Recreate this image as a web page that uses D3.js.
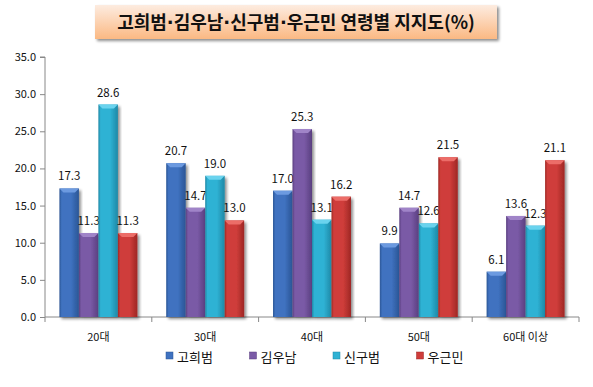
<!DOCTYPE html>
<html>
<head>
<meta charset="utf-8">
<script src="https://cdn.jsdelivr.net/npm/d3@7"></script>
<style>
body{margin:0;background:#fff;}
text{font-family:"Noto Sans CJK KR","Noto Sans",sans-serif;}
</style>
</head>
<body>
<div id="chart"></div>
<script>
// data
let categories=["20대","30대","40대","50대","60대 이상"]
let seriesNames=["고희범","김우남","신구범","우근민"]
let goHuibeom=[17.3,20.7,17.0,9.9,6.1]
let kimUnam=[11.3,14.7,25.3,14.7,13.6]
let sinGubeom=[28.6,19.0,13.1,12.6,12.3]
let uGeunmin=[11.3,13.0,16.2,21.5,21.1]
let yTicks=[0,5,10,15,20,25,30,35]
let titleText="고희범·김우남·신구범·우근민 연령별 지지도(%)"

let seriesValues=[goHuibeom,kimUnam,sinGubeom,uGeunmin]
// base, light, dark for each series
let colors=[
    ["#3f72c0","#6c9ae0","#2a5595"],
    ["#7a5aa6","#a084c8","#5a3f80"],
    ["#2fb2d4","#6ad3ee","#1e88a6"],
    ["#cf3d3a","#ec6d68","#9e2724"]
]

let width=593,height=387
const svg=d3.select("#chart").append("svg").attr("width",width).attr("height",height)
const defs=svg.append("defs")

// title box gradient + shadow
let tg=defs.append("linearGradient").attr("id","titleGrad").attr("x1",0).attr("y1",0).attr("x2",0).attr("y2",1)
tg.append("stop").attr("offset","0%").attr("stop-color","#fdece0")
tg.append("stop").attr("offset","100%").attr("stop-color","#fbb983")
let sh=defs.append("filter").attr("id","shadow").attr("x","-10%").attr("y","-10%").attr("width","130%").attr("height","150%")
sh.append("feGaussianBlur").attr("in","SourceAlpha").attr("stdDeviation",1.5)
sh.append("feOffset").attr("dx",2).attr("dy",2).attr("result","ob")
sh.append("feComponentTransfer").append("feFuncA").attr("type","linear").attr("slope",0.45)
let mg=sh.append("feMerge")
mg.append("feMergeNode")
mg.append("feMergeNode").attr("in","SourceGraphic")

colors.forEach((c,i)=>{
    let g=defs.append("linearGradient").attr("id","bar"+i).attr("x1",0).attr("y1",0).attr("x2",1).attr("y2",0)
    g.append("stop").attr("offset","0%").attr("stop-color",c[2])
    g.append("stop").attr("offset","12%").attr("stop-color",c[0])
    g.append("stop").attr("offset","60%").attr("stop-color",c[0])
    g.append("stop").attr("offset","100%").attr("stop-color",c[2])
})

svg.append("rect").attr("x",95).attr("y",5).attr("width",402).attr("height",34)
    .attr("fill","url(#titleGrad)").attr("filter","url(#shadow)")
// split on the middle dot so the dots can use a narrow latin font
let titleT=svg.append("text").attr("x",296).attr("y",28.5).attr("text-anchor","middle")
    .attr("font-size",18).attr("font-weight","bold").attr("fill","#111")
titleText.split(/(·)/).forEach(part=>{
    let ts=titleT.append("tspan").text(part)
    if(part=="·") ts.attr("font-family","DejaVu Sans")
})

let plotLeft=45,plotRight=579,plotTop=57,plotBottom=317
const yScale=d3.scaleLinear().domain([0,35]).range([plotBottom,plotTop])
const xScale=d3.scaleBand().domain(categories).range([plotLeft,plotRight]).paddingInner(0.27).paddingOuter(0.135)
const sub=d3.scaleBand().domain(d3.range(seriesNames.length)).range([0,xScale.bandwidth()])

// axes
const yAxis=d3.axisLeft(yScale).tickValues(yTicks).tickFormat(d3.format(".1f")).tickSize(5).tickPadding(4)
let ya=svg.append("g").attr("transform","translate("+plotLeft+",0)").call(yAxis)
ya.select(".domain").attr("stroke","#888").attr("d","M-5,"+plotTop+"H0V"+plotBottom)
ya.selectAll(".tick line").attr("stroke","#888")
ya.selectAll("text").attr("font-size",11).attr("fill","#111").attr("font-family","DejaVu Sans")

let xa=svg.append("g").attr("transform","translate(0,"+plotBottom+")")
xa.append("line").attr("x1",plotLeft).attr("x2",plotRight).attr("stroke","#888")
let edges=categories.map(c=>xScale(c)-xScale.step()*xScale.paddingInner()/2).concat([plotRight])
xa.selectAll(".xt").data(edges).enter().append("line").attr("x1",d=>d).attr("x2",d=>d).attr("y1",0).attr("y2",5).attr("stroke","#888")
xa.selectAll(".xl").data(categories).enter().append("text")
    .attr("x",d=>xScale(d)+xScale.bandwidth()/2).attr("y",24).attr("text-anchor","middle")
    .attr("font-size",11).attr("fill","#111").text(d=>d)

// bars
let bw=sub.bandwidth()
seriesValues.forEach((vals,s)=>{
    let g=svg.append("g")
    let gg=g.selectAll("g").data(vals).enter().append("g")
        .attr("transform",(d,i)=>"translate("+(xScale(categories[i])+sub(s))+",0)")
    gg.append("rect").attr("x",0).attr("y",d=>yScale(d)).attr("width",bw).attr("height",d=>plotBottom-yScale(d))
        .attr("fill","url(#bar"+s+")").attr("filter","url(#shadow)")
    // top bevel
    gg.append("path").attr("d",d=>{
        let y=yScale(d)
        return "M0,"+y+"H"+bw+"L"+(bw-4)+","+(y+4)+"H4Z"
    }).attr("fill",colors[s][1])
    gg.append("text").attr("x",bw/2).attr("y",d=>yScale(d)-8).attr("text-anchor","middle")
        .attr("font-size",11.5).attr("fill","#111").attr("font-family","DejaVu Sans").text(d=>d.toFixed(1))
})

// legend
let lg=svg.append("g").selectAll("g").data(seriesNames).enter().append("g")
    .attr("transform",(d,i)=>"translate("+(166+i*83.5)+",357)")
lg.append("rect").attr("x",0).attr("y",-5).attr("width",7).attr("height",7).attr("fill",(d,i)=>colors[i][0]).attr("stroke",(d,i)=>colors[i][2]).attr("stroke-width",0.5)
lg.append("text").attr("x",11).attr("y",4.5).attr("font-size",13).attr("fill","#111").text(d=>d)
</script>
</body>
</html>
